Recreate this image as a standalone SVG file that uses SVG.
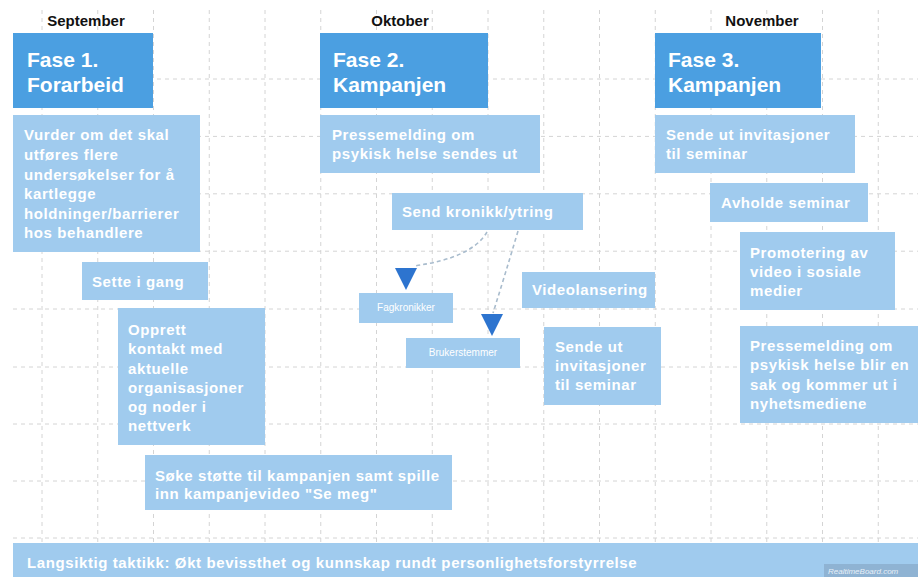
<svg xmlns="http://www.w3.org/2000/svg" xmlns:xlink="http://www.w3.org/1999/xlink" width="918" height="577" viewBox="0 0 918 577">
<style>
.grid line{stroke:#d4d4d4;stroke-width:1;stroke-dasharray:4 4}
.hdr{font-family:"Liberation Sans",Arial,sans-serif;font-weight:bold;font-size:15px;fill:#111;text-anchor:middle}
.phase rect{fill:#4b9fe1}
.phase text{font-family:"Liberation Sans",Arial,sans-serif;font-weight:bold;font-size:21px;fill:#fff}
.task rect{fill:#a0cbee}
.task text{font-family:"Liberation Sans",Arial,sans-serif;font-weight:bold;font-size:15px;fill:#fff;letter-spacing:0.6px}
.task.small text{font-weight:normal;font-size:10px;letter-spacing:0}
.conn path{fill:none;stroke:#a9bccd;stroke-width:1.6;stroke-dasharray:4 3}
.arrow{fill:#2d74cf}
</style>
<defs>
<path id="tri" d="M-11,0 L11,0 L0,22 Z"/>
</defs>
<rect width="918" height="577" fill="#fff"/>
<g class="grid">
<line x1="42" y1="10" x2="42" y2="543"/>
<line x1="97.75" y1="10" x2="97.75" y2="543"/>
<line x1="153.5" y1="10" x2="153.5" y2="543"/>
<line x1="209.25" y1="10" x2="209.25" y2="543"/>
<line x1="265" y1="10" x2="265" y2="543"/>
<line x1="320.75" y1="10" x2="320.75" y2="543"/>
<line x1="376.5" y1="10" x2="376.5" y2="543"/>
<line x1="432.25" y1="10" x2="432.25" y2="543"/>
<line x1="488" y1="10" x2="488" y2="543"/>
<line x1="543.75" y1="10" x2="543.75" y2="543"/>
<line x1="599.5" y1="10" x2="599.5" y2="543"/>
<line x1="655.25" y1="10" x2="655.25" y2="543"/>
<line x1="711" y1="10" x2="711" y2="543"/>
<line x1="766.75" y1="10" x2="766.75" y2="543"/>
<line x1="822.5" y1="10" x2="822.5" y2="543"/>
<line x1="878.25" y1="10" x2="878.25" y2="543"/>
<line x1="13" y1="79" x2="918" y2="79"/>
<line x1="13" y1="136.4" x2="918" y2="136.4"/>
<line x1="13" y1="193.8" x2="918" y2="193.8"/>
<line x1="13" y1="251.2" x2="918" y2="251.2"/>
<line x1="13" y1="309" x2="918" y2="309"/>
<line x1="13" y1="367" x2="918" y2="367"/>
<line x1="13" y1="424" x2="918" y2="424"/>
<line x1="13" y1="481" x2="918" y2="481"/>
<line x1="13" y1="538" x2="918" y2="538"/>
</g>
<g id="headers">
<text class="hdr" x="86" y="26">September</text>
<text class="hdr" x="400" y="26">Oktober</text>
<text class="hdr" x="762" y="26">November</text>
</g>
<g id="fase1" class="phase"><rect x="13" y="33" width="140" height="75"/><text x="27" y="67">Fase 1.</text><text x="27" y="92">Forarbeid</text></g>
<g id="fase2" class="phase"><rect x="320" y="33" width="168" height="75"/><text x="333" y="67">Fase 2.</text><text x="333" y="92">Kampanjen</text></g>
<g id="fase3" class="phase"><rect x="655" y="33" width="166" height="75"/><text x="668" y="67">Fase 3.</text><text x="668" y="92">Kampanjen</text></g>
<g id="vurder" class="task"><rect x="13" y="115" width="187" height="137"/>
<text x="24" y="140">Vurder om det skal</text><text x="24" y="160">utføres flere</text><text x="24" y="180">undersøkelser for å</text><text x="24" y="199">kartlegge</text><text x="24" y="219">holdninger/barrierer</text><text x="24" y="238">hos behandlere</text></g>
<g id="sette" class="task"><rect x="82" y="262" width="126" height="38"/><text x="92" y="287">Sette i gang</text></g>
<g id="opprett" class="task"><rect x="118" y="308" width="147" height="137"/>
<text x="128" y="335">Opprett</text><text x="128" y="354">kontakt med</text><text x="128" y="374">aktuelle</text><text x="128" y="393">organisasjoner</text><text x="128" y="412">og noder i</text><text x="128" y="431">nettverk</text></g>
<g id="soke" class="task"><rect x="145" y="455" width="307" height="55"/>
<text x="155" y="481">Søke støtte til kampanjen samt spille</text><text x="155" y="499">inn kampanjevideo "Se meg"</text></g>
<g id="presse1" class="task"><rect x="320" y="115" width="220" height="58"/>
<text x="332" y="140">Pressemelding om</text><text x="332" y="159">psykisk helse sendes ut</text></g>
<g id="kronikk" class="task"><rect x="392" y="193" width="191" height="37"/><text x="402" y="217">Send kronikk/ytring</text></g>
<g id="fagkronikker" class="task small"><rect x="359" y="293" width="94" height="30"/><text x="406" y="311" text-anchor="middle">Fagkronikker</text></g>
<g id="brukerstemmer" class="task small"><rect x="406" y="338" width="114" height="30"/><text x="463" y="356" text-anchor="middle">Brukerstemmer</text></g>
<g id="video" class="task"><rect x="522" y="272" width="133" height="36"/><text x="532" y="295">Videolansering</text></g>
<g id="sende2" class="task"><rect x="544" y="327" width="117" height="78"/>
<text x="555" y="352">Sende ut</text><text x="555" y="371">invitasjoner</text><text x="555" y="390">til seminar</text></g>
<g id="sende3" class="task"><rect x="655" y="115" width="200" height="58"/>
<text x="666" y="140">Sende ut invitasjoner</text><text x="666" y="159">til seminar</text></g>
<g id="avholde" class="task"><rect x="710" y="183" width="158" height="39"/><text x="721" y="208">Avholde seminar</text></g>
<g id="promotering" class="task"><rect x="740" y="232" width="155" height="78"/>
<text x="750" y="258">Promotering av</text><text x="750" y="277">video i sosiale</text><text x="750" y="296">medier</text></g>
<g id="presse3" class="task"><rect x="740" y="326" width="178" height="97"/>
<text x="750" y="351">Pressemelding om</text><text x="750" y="370">psykisk helse blir en</text><text x="750" y="390">sak og kommer ut i</text><text x="750" y="409">nyhetsmediene</text></g>
<g id="langsiktig" class="task"><rect x="13" y="543" width="905" height="34"/>
<text x="27" y="568">Langsiktig taktikk: Økt bevissthet og kunnskap rundt personlighetsforstyrrelse</text></g>
<g id="watermark"><rect x="824" y="564" width="94" height="13" fill="#8fb3d3"/><text x="828" y="574" font-family="'Liberation Sans',Arial,sans-serif" font-size="8" font-style="italic" fill="#e8f0f8">RealtimeBoard.com</text></g>
<g id="connectors" class="conn">
<path d="M487,232 Q472,258 414,266"/>
<path d="M518,231 Q505,275 493,313"/>
<use xlink:href="#tri" class="arrow" x="406" y="268"/>
<use xlink:href="#tri" class="arrow" x="492" y="314"/>
</g>
</svg>
